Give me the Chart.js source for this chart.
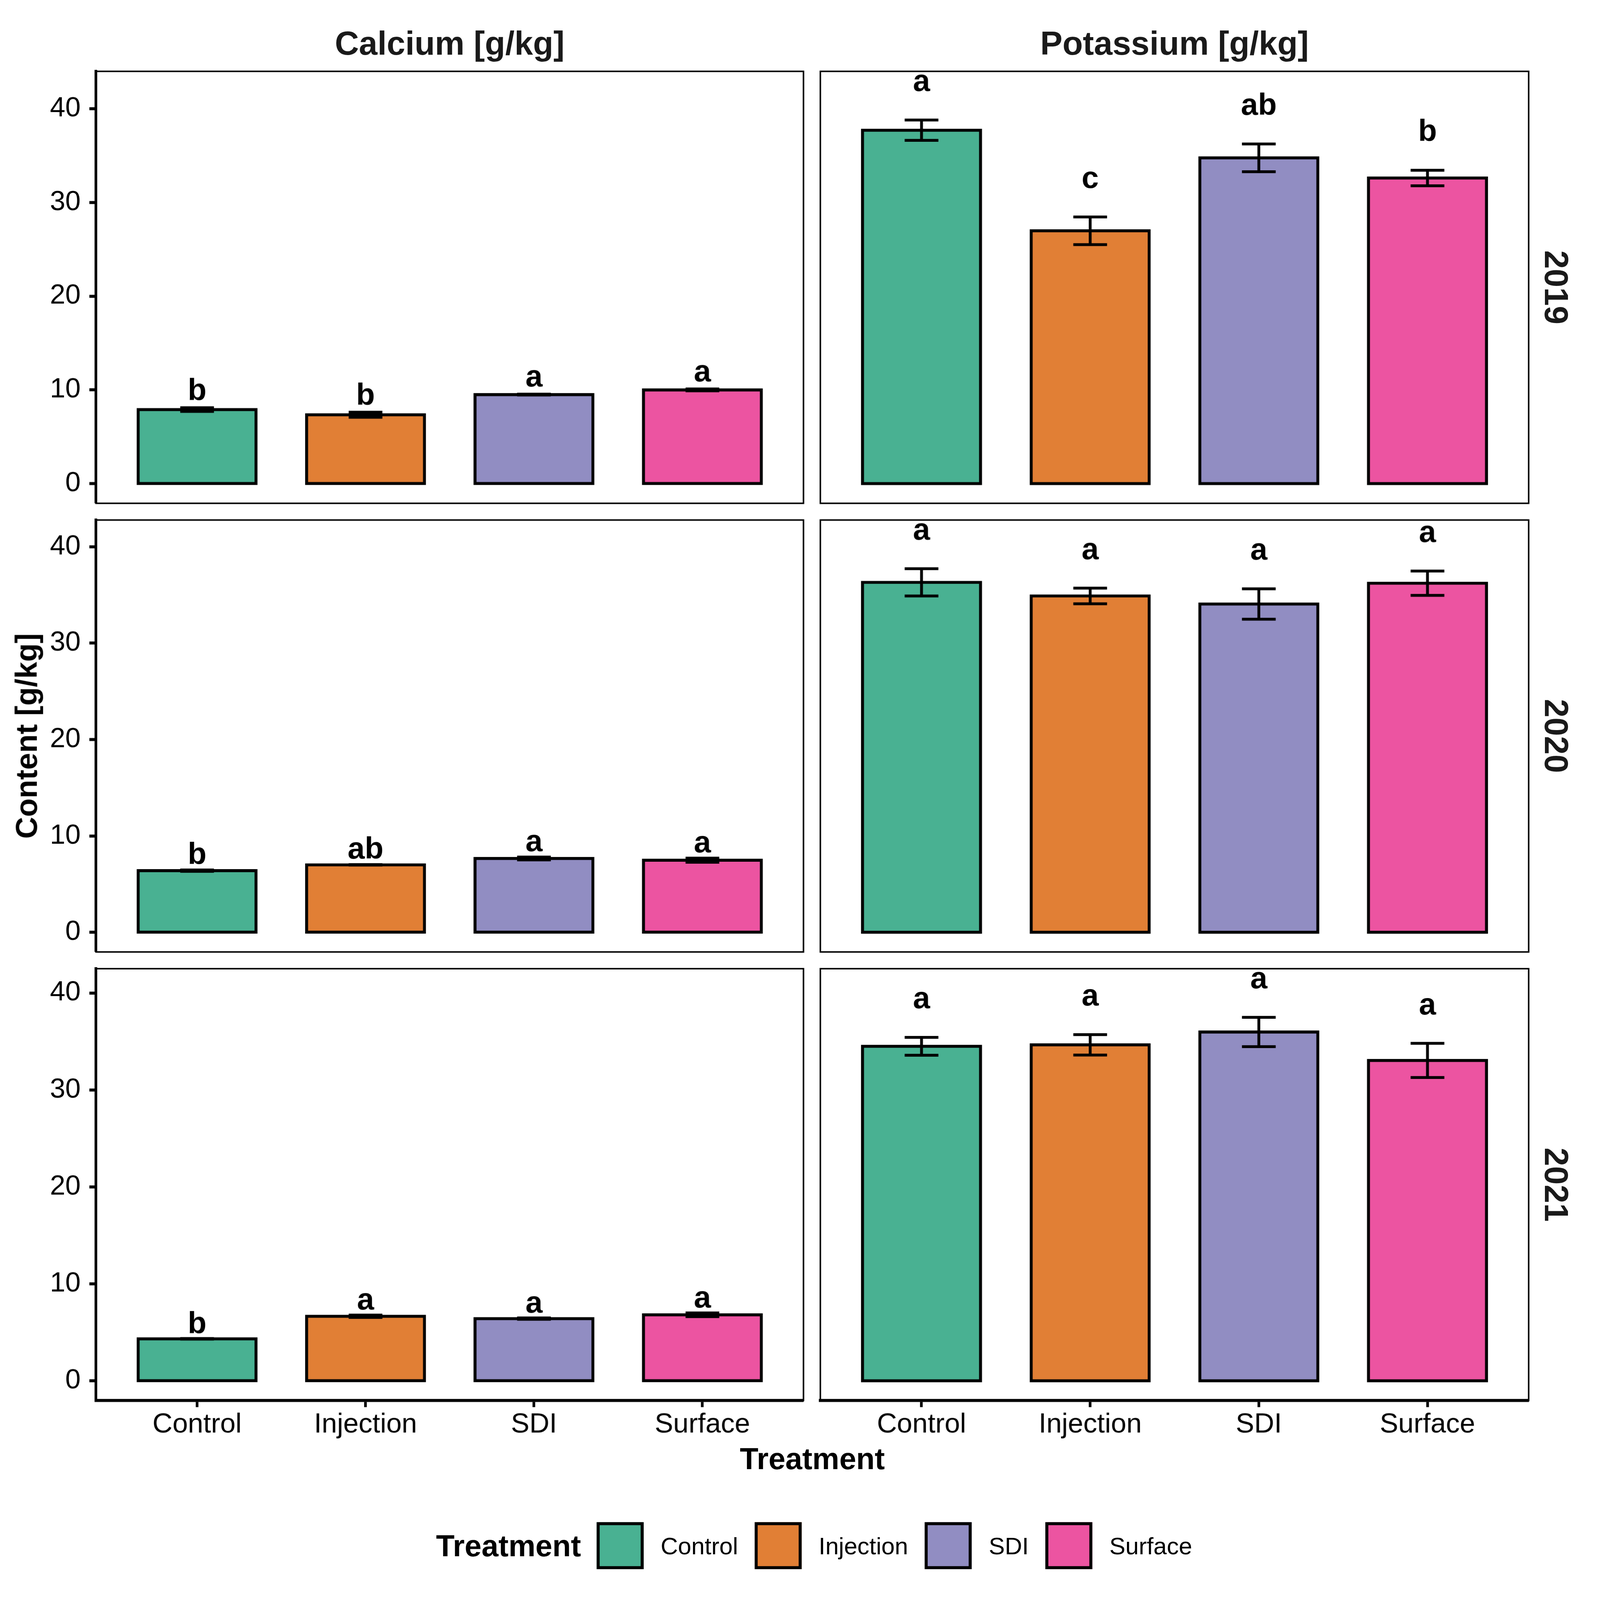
<!DOCTYPE html>
<html>
<head>
<meta charset="utf-8">
<title>Calcium and potassium content by treatment</title>
<script src="https://cdn.jsdelivr.net/npm/chart.js@4.4.1/dist/chart.umd.min.js"></script>
<style>
  html, body { margin: 0; padding: 0; background: #fff; overflow: hidden; }
  #wrap { position: relative; overflow: hidden; background: #fff; }
  #fig {
    position: absolute; left: 0; top: 0; width: 4800px; height: 4800px; background: #fff;
    transform-origin: 0 0;
    font-family: "Liberation Sans", Arial, Helvetica, sans-serif; color: #000;
  }
  #fig canvas { position: absolute; }
  .txt { position: absolute; white-space: nowrap; line-height: 1; }
  .strip { font-size: 100px; font-weight: bold; color: #1a1a1a; }
  .title { font-size: 91px; font-weight: bold; }
  #legend { position: absolute; display: flex; align-items: center; line-height: 1; transform: translateY(-50%); }
  #legend .ltitle { font-size: 91px; font-weight: bold; margin-right: 47px; }
  #legend .key { width: 141px; height: 141px; box-sizing: border-box; border: 9px solid #000; }
  #legend .lab { font-size: 72px; margin-left: 51px; margin-right: 50px; }
</style>
</head>
<body>
<div id="wrap"><div id="fig"></div></div>
<script>
// categories and facets
const treatments = ['Control', 'Injection', 'SDI', 'Surface'];
const years = ['2019', '2020', '2021'];
const nutrients = ['Calcium [g/kg]', 'Potassium [g/kg]'];
const yTicks = [0, 10, 20, 30, 40];
const barColors = ['#49b192', '#e17f35', '#918dc2', '#ec54a1'];

// calcium: means, standard errors, letters
const calcium2019 = [7.9, 7.35, 9.5, 10.0];
const calcium2019Se = [0.2, 0.27, 0.05, 0.1];
const calcium2019Letters = ['b', 'b', 'a', 'a'];
const calcium2020 = [6.4, 7.0, 7.66, 7.48];
const calcium2020Se = [0.07, 0.03, 0.15, 0.21];
const calcium2020Letters = ['b', 'ab', 'a', 'a'];
const calcium2021 = [4.33, 6.66, 6.42, 6.81];
const calcium2021Se = [0.03, 0.12, 0.07, 0.19];
const calcium2021Letters = ['b', 'a', 'a', 'a'];

// potassium: means, standard errors, letters
const potassium2019 = [37.7, 26.97, 34.75, 32.6];
const potassium2019Se = [1.08, 1.47, 1.48, 0.83];
const potassium2019Letters = ['a', 'c', 'ab', 'b'];
const potassium2020 = [36.3, 34.89, 34.05, 36.21];
const potassium2020Se = [1.41, 0.81, 1.58, 1.26];
const potassium2020Letters = ['a', 'a', 'a', 'a'];
const potassium2021 = [34.5, 34.65, 35.97, 33.04];
const potassium2021Se = [0.92, 1.05, 1.51, 1.76];
const potassium2021Letters = ['a', 'a', 'a', 'a'];

// layout, in a 4800 x 4800 design space
const panelLeft = [288, 2461];
const panelWidth = [2122, 2125];
const panelTop = [214, 1560, 2906];
const panelHeight = 1295;
const pad = 8;
const yAxisW = 288;
const xAxisH = 140;
const FONT = '"Liberation Sans", Arial, Helvetica, sans-serif';

// fit the design space into whatever viewport we get
const viewport = Math.min(window.innerWidth || 4800, window.innerHeight || 4800);
const scale = viewport / 4800;
const wrap = document.getElementById('wrap');
wrap.style.width = (4800 * scale) + 'px';
wrap.style.height = (4800 * scale) + 'px';
const fig = document.getElementById('fig');
fig.style.transform = 'scale(' + scale + ')';
// one bitmap pixel per device pixel after the scale
const canvasDpr = scale * (window.devicePixelRatio || 1);

const panels = [
    [
        { mean: calcium2019, se: calcium2019Se, letters: calcium2019Letters },
        { mean: potassium2019, se: potassium2019Se, letters: potassium2019Letters }
    ],
    [
        { mean: calcium2020, se: calcium2020Se, letters: calcium2020Letters },
        { mean: potassium2020, se: potassium2020Se, letters: potassium2020Letters }
    ],
    [
        { mean: calcium2021, se: calcium2021Se, letters: calcium2021Letters },
        { mean: potassium2021, se: potassium2021Se, letters: potassium2021Letters }
    ]
];

// letter sits a bit above the error bar; y range per row covers letters (+5%)
panels.forEach(row => row.forEach(p => {
    const tops = p.mean.map((m, i) => m + p.se[i]);
    p.gap = 0.08 * Math.max(...tops);
    p.letterY = tops.map(t => t + p.gap);
}));
const rowRange = panels.map(row => {
    const hi = Math.max(...row.flatMap(p => p.letterY));
    return { min: -0.05 * hi, max: 1.05 * hi };
});

// error bars, letters and panel frame
const panelDecor = {
    id: 'panelDecor',
    afterDatasetsDraw(chart) {
        const ds = chart.data.datasets[0];
        const xs = chart.scales.x;
        const ys = chart.scales.y;
        const ctx = chart.ctx;
        ctx.save();
        ctx.strokeStyle = '#000';
        ctx.lineWidth = 8.5;
        ds.data.forEach((pt, i) => {
            const lo = ys.getPixelForValue(pt.y - ds.se[i]);
            const hi = ys.getPixelForValue(pt.y + ds.se[i]);
            const xc = xs.getPixelForValue(pt.x);
            const xl = xs.getPixelForValue(pt.x - 0.1);
            const xr = xs.getPixelForValue(pt.x + 0.1);
            ctx.beginPath();
            ctx.moveTo(xc, lo); ctx.lineTo(xc, hi);
            ctx.moveTo(xl, lo); ctx.lineTo(xr, lo);
            ctx.moveTo(xl, hi); ctx.lineTo(xr, hi);
            ctx.stroke();
        });
        ctx.fillStyle = '#000';
        ctx.font = 'bold 92px ' + FONT;
        ctx.textAlign = 'center';
        ctx.textBaseline = 'alphabetic';
        ds.data.forEach((pt, i) => {
            ctx.fillText(ds.letters[i], xs.getPixelForValue(pt.x), ys.getPixelForValue(ds.letterY[i]));
        });
        ctx.restore();
    },
    afterDraw(chart) {
        const a = chart.chartArea;
        const ctx = chart.ctx;
        ctx.save();
        ctx.strokeStyle = '#000';
        ctx.lineWidth = 4.5;
        ctx.strokeRect(a.left, a.top, a.right - a.left, a.bottom - a.top);
        ctx.restore();
    }
};

function makePanel(row, col) {
    const p = panels[row][col];
    const isLeft = col === 0;
    const isBottom = row === panels.length - 1;
    const left = isLeft ? 0 : panelLeft[col] - pad;
    const top = panelTop[row] - pad;
    const w = (isLeft ? yAxisW : pad) + panelWidth[col] + pad;
    const h = pad + panelHeight + (isBottom ? xAxisH : pad);

    const canvas = document.createElement('canvas');
    canvas.width = w;
    canvas.height = h;
    canvas.style.left = left + 'px';
    canvas.style.top = top + 'px';
    canvas.style.width = w + 'px';
    canvas.style.height = h + 'px';
    fig.appendChild(canvas);

    new Chart(canvas, {
        type: 'bar',
        data: {
            datasets: [{
                data: p.mean.map((v, i) => ({ x: i + 1, y: v })),
                se: p.se,
                letters: p.letters,
                letterY: p.letterY,
                backgroundColor: barColors,
                borderColor: '#000',
                borderWidth: 9,
                borderSkipped: false,
                inflateAmount: 4.5,
                categoryPercentage: 1,
                barPercentage: 0.7
            }]
        },
        options: {
            responsive: false,
            animation: false,
            devicePixelRatio: canvasDpr,
            layout: {
                padding: { left: isLeft ? 0 : pad, right: pad, top: pad, bottom: isBottom ? 0 : pad }
            },
            plugins: {
                legend: { display: false },
                tooltip: { enabled: false }
            },
            scales: {
                x: {
                    type: 'linear',
                    min: 0.4,
                    max: 4.6,
                    offset: false,
                    display: isBottom,
                    afterBuildTicks: s => { s.ticks = treatments.map((t, i) => ({ value: i + 1 })); },
                    afterFit: s => {
                        s.height = isBottom ? xAxisH : 0;
                        s.paddingLeft = 0;
                        s.paddingRight = 0;
                    },
                    grid: {
                        offset: false,
                        drawOnChartArea: false,
                        drawTicks: true,
                        tickLength: 20,
                        tickWidth: 8,
                        tickColor: '#000',
                        color: '#000'
                    },
                    border: { display: true, color: '#000', width: 9 },
                    ticks: {
                        autoSkip: false,
                        maxRotation: 0,
                        minRotation: 0,
                        padding: 3,
                        color: '#000',
                        font: { family: FONT, size: 83 },
                        callback: v => treatments[Math.round(v) - 1]
                    }
                },
                y: {
                    min: rowRange[row].min,
                    max: rowRange[row].max,
                    display: isLeft,
                    afterBuildTicks: s => { s.ticks = yTicks.map(v => ({ value: v })); },
                    afterFit: s => {
                        s.width = isLeft ? yAxisW : 0;
                        s.paddingTop = 0;
                        s.paddingBottom = 0;
                    },
                    grid: {
                        drawOnChartArea: false,
                        drawTicks: true,
                        tickLength: 20,
                        tickWidth: 9,
                        tickColor: '#000',
                        color: '#000'
                    },
                    border: { display: true, color: '#000', width: 8 },
                    ticks: {
                        padding: 26,
                        color: '#000',
                        font: { family: FONT, size: 83 },
                        callback: v => String(v)
                    }
                }
            }
        },
        plugins: [panelDecor]
    });
}

panels.forEach((r, row) => r.forEach((p, col) => makePanel(row, col)));

// text helpers
function addText(text, cls, cx, cy, rot) {
    const d = document.createElement('div');
    d.className = 'txt ' + cls;
    d.textContent = text;
    d.style.left = cx + 'px';
    d.style.top = cy + 'px';
    d.style.transform = 'translate(-50%, -50%)' + (rot ? ' rotate(' + rot + 'deg)' : '');
    fig.appendChild(d);
}

// facet strips
nutrients.forEach((n, col) => addText(n, 'strip', panelLeft[col] + panelWidth[col] / 2, 129));
years.forEach((y, row) => addText(y, 'strip', 4670, panelTop[row] + panelHeight / 2, 90));

// axis titles
addText('Content [g/kg]', 'title', 79, (panelTop[0] + panelTop[2] + panelHeight) / 2, -90);
addText('Treatment', 'title', (panelLeft[0] + panelLeft[1] + panelWidth[1]) / 2, 4376);

// legend
const legend = document.createElement('div');
legend.id = 'legend';
legend.style.left = '1308px';
legend.style.top = '4637px';
const lt = document.createElement('span');
lt.className = 'ltitle';
lt.textContent = 'Treatment';
legend.appendChild(lt);
treatments.forEach((t, i) => {
    const key = document.createElement('div');
    key.className = 'key';
    key.style.background = barColors[i];
    legend.appendChild(key);
    const lab = document.createElement('span');
    lab.className = 'lab';
    lab.textContent = t;
    legend.appendChild(lab);
});
fig.appendChild(legend);
</script>
</body>
</html>
